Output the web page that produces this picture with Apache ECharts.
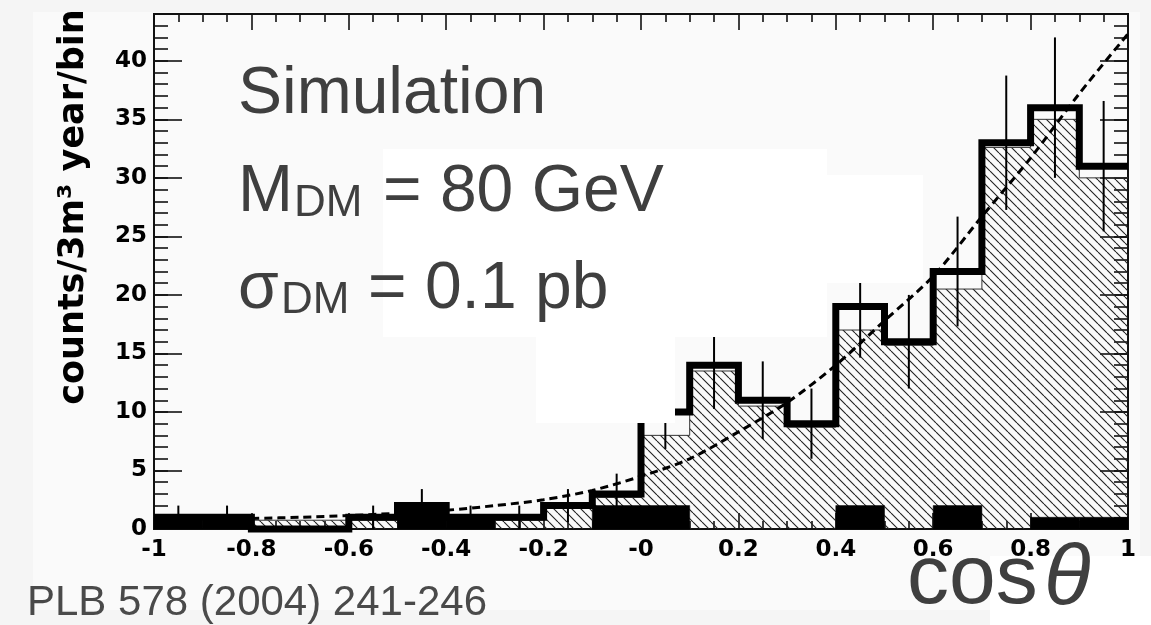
<!DOCTYPE html>
<html>
<head>
<meta charset="utf-8">
<script src="https://cdn.jsdelivr.net/npm/echarts@6/dist/echarts.min.js"></script>
<style>
html,body{margin:0;padding:0;background:#f5f5f5;}
#chart{width:1151px;height:625px;}
</style>
</head>
<body>
<div id="chart"></div>
<script>
// ---- data ----
const binEdges = [-1,-0.9,-0.8,-0.7,-0.6,-0.5,-0.4,-0.3,-0.2,-0.1,0,0.1,0.2,0.3,0.4,0.5,0.6,0.7,0.8,0.9,1];
const dataCounts = [1,1,0,0,1,2,1,1,2,3,10,14,11,9,19,16,22,33,36,31];
const dataErrors = [1,1,0,0,1,1.41,1,1,1.41,1.73,3.16,3.74,3.32,3,4.36,4,4.69,5.74,6,5.57];
const signalMC = [0.75,0.75,0.75,0.75,0.75,0.75,0.75,0.75,1.8,2.7,8,13.5,10.5,8.7,17,15.7,20.5,32.6,35,30];
const backgroundCounts = [1,1,0,0,0,2,1,0,0,2,2,0,0,0,2,0,2,0,1,1];
const fitX = [-0.8,-0.7,-0.6,-0.5,-0.4,-0.3,-0.2,-0.1,0,0.1,0.2,0.3,0.4,0.5,0.6,0.7,0.8,0.9,1.0];
const fitY = [0.9,1.0,1.15,1.35,1.6,2.0,2.5,3.3,4.5,6.0,8.3,10.8,14.0,17.8,21.6,26.7,31.7,37.2,42.3];
const xTickLabels = ['-1','-0.8','-0.6','-0.4','-0.2','-0','0.2','0.4','0.6','0.8','1'];
const yTickLabels = ['0','5','10','15','20','25','30','35','40'];

// ---- hatch pattern ----
const hc = document.createElement('canvas');
hc.width = 9; hc.height = 9;
const hg = hc.getContext('2d');
hg.strokeStyle = '#222'; hg.lineWidth = 1.1;
hg.beginPath();
[-9,0,9].forEach(k => { hg.moveTo(k,0); hg.lineTo(k+9,9); });
hg.stroke();
const hatch = {image: hc, repeat: 'repeat'};

const nb = dataCounts.length;
const binIdx = Array.from({length: nb}, (_, i) => i);

function rectItem(fill, stroke, lw) {
  return function (params, api) {
    const lo = api.value(0), hi = api.value(1), top = api.value(2);
    if (!top) return null;
    const p0 = api.coord([lo, top]);
    const p1 = api.coord([hi, 0]);
    return {type: 'rect', shape: {x: p0[0], y: p0[1], width: p1[0]-p0[0], height: p1[1]-p0[1]},
      style: {fill: fill, stroke: stroke, lineWidth: lw}};
  };
}

const tickStyle = {color: '#111', width: 1.6};
const font = '"Liberation Sans", Arial, sans-serif';
const boldFont = '"DejaVu Sans", sans-serif';
const noLine = {show: false, onZero: false};

const option = {
  backgroundColor: 'transparent',
  animation: false,
  grid: {left: 154, right: 23, top: 14, bottom: 96, show: true, borderColor: '#111', borderWidth: 2, backgroundColor: 'transparent'},
  xAxis: [
    {type: 'value', min: -1, max: 1, interval: 0.2, position: 'bottom',
     axisLine: noLine, splitLine: {show: false},
     axisTick: {inside: true, length: 16, lineStyle: tickStyle},
     minorTick: {show: true, splitNumber: 4, length: 8, lineStyle: tickStyle},
     axisLabel: {margin: 10, fontFamily: boldFont, fontWeight: 'bold', fontSize: 23, color: '#000',
       formatter: v => xTickLabels[Math.round((v + 1) / 0.2)]}},
    {type: 'value', min: -1, max: 1, interval: 0.2, position: 'top',
     axisLine: noLine, splitLine: {show: false},
     axisTick: {inside: true, length: 16, lineStyle: tickStyle},
     minorTick: {show: true, splitNumber: 4, length: 8, lineStyle: tickStyle},
     axisLabel: {show: false}}
  ],
  yAxis: [
    {type: 'value', min: 0, max: 44, interval: 5, position: 'left',
     axisLine: noLine, splitLine: {show: false},
     axisTick: {inside: true, length: 28, lineStyle: tickStyle},
     axisLabel: {margin: 7, fontFamily: boldFont, fontWeight: 'bold', fontSize: 23, color: '#000',
       formatter: v => (v % 5 === 0 && v <= 40) ? yTickLabels[v / 5] : ''}},
    {type: 'value', min: 0, max: 44, interval: 1, position: 'left',
     axisLine: noLine, splitLine: {show: false},
     axisTick: {inside: true, length: 14, lineStyle: tickStyle}, axisLabel: {show: false}},
    {type: 'value', min: 0, max: 44, interval: 5, position: 'right',
     axisLine: noLine, splitLine: {show: false},
     axisTick: {inside: true, length: 28, lineStyle: tickStyle}, axisLabel: {show: false}},
    {type: 'value', min: 0, max: 44, interval: 1, position: 'right',
     axisLine: noLine, splitLine: {show: false},
     axisTick: {inside: true, length: 14, lineStyle: tickStyle}, axisLabel: {show: false}}
  ],
  series: [
    {type: 'custom', name: 'signal MC', z: 2, clip: true,
     data: binIdx.map(i => [binEdges[i], binEdges[i+1], signalMC[i]]),
     encode: {x: [0, 1], y: 2},
     renderItem: rectItem(hatch, null, 0)},
    {type: 'line', name: 'signal MC outline', z: 2, step: 'end', symbol: 'none',
     data: binEdges.map((e, i) => [e, signalMC[Math.min(i, nb - 1)]]),
     lineStyle: {color: '#333', width: 1}},
    {type: 'custom', name: 'background', z: 3,
     data: binIdx.map(i => [binEdges[i], binEdges[i+1], backgroundCounts[i]]),
     encode: {x: [0, 1], y: 2},
     renderItem: rectItem('#000', '#000', 0.5)},
    {type: 'line', name: 'simulated data', z: 4, step: 'end', symbol: 'none', clip: false,
     data: binEdges.map((e, i) => [e, dataCounts[Math.min(i, nb - 1)]]),
     lineStyle: {color: '#000', width: 7, join: 'miter'}},
    {type: 'custom', name: 'errors', z: 5,
     data: binIdx.map(i => [(binEdges[i] + binEdges[i+1]) / 2, dataCounts[i], dataErrors[i]]),
     encode: {x: 0, y: 1},
     renderItem: function (params, api) {
       const xc = api.value(0), v = api.value(1), e = api.value(2);
       if (!e) return null;
       const a = api.coord([xc, v - e]);
       const b = api.coord([xc, v + e]);
       return {type: 'line', shape: {x1: a[0], y1: a[1], x2: b[0], y2: b[1]}, style: {stroke: '#000', lineWidth: 2}};
     }},
    {type: 'line', name: 'fit', z: 6, smooth: 0.3, symbol: 'none',
     data: fitX.map((x, i) => [x, fitY[i]]),
     lineStyle: {color: '#000', width: 3, type: [8, 5]}}
  ],
  graphic: [
    {type: 'rect', z: -1, silent: true, shape: {x: 33, y: 12, width: 1107, height: 598}, style: {fill: '#fafafa'}},
    {type: 'rect', z: 100, silent: true, shape: {x: 383, y: 149, width: 444, height: 188}, style: {fill: '#ffffff'}},
    {type: 'rect', z: 100, silent: true, shape: {x: 536, y: 337, width: 139, height: 86}, style: {fill: '#ffffff'}},
    {type: 'rect', z: 100, silent: true, shape: {x: 827, y: 175, width: 96, height: 108}, style: {fill: '#ffffff'}},
    {type: 'rect', z: 100, silent: true, shape: {x: 990, y: 556, width: 161, height: 69}, style: {fill: '#ffffff'}},
    {type: 'text', z: 101, x: 238, y: 95, style: {text: 'Simulation', font: '66px ' + font, fill: '#3f3f3f', align: 'left', verticalAlign: 'middle'}},
    {type: 'text', z: 101, x: 238, y: 193, style: {text: 'M', font: '66px ' + font, fill: '#3f3f3f', align: 'left', verticalAlign: 'middle'}},
    {type: 'text', z: 101, x: 294, y: 204, style: {text: 'DM', font: '44px ' + font, fill: '#3f3f3f', align: 'left', verticalAlign: 'middle'}},
    {type: 'text', z: 101, x: 383, y: 193, style: {text: '= 80 GeV', font: '66px ' + font, fill: '#3f3f3f', align: 'left', verticalAlign: 'middle'}},
    {type: 'text', z: 101, x: 238, y: 290, style: {text: 'σ', font: '66px ' + font, fill: '#3f3f3f', align: 'left', verticalAlign: 'middle'}},
    {type: 'text', z: 101, x: 281, y: 301, style: {text: 'DM', font: '44px ' + font, fill: '#3f3f3f', align: 'left', verticalAlign: 'middle'}},
    {type: 'text', z: 101, x: 368, y: 290, style: {text: '= 0.1 pb', font: '66px ' + font, fill: '#3f3f3f', align: 'left', verticalAlign: 'middle'}},
    {type: 'text', z: 101, x: 27, y: 603, style: {text: 'PLB 578 (2004) 241-246', font: '42px ' + font, fill: '#4a4a4a', align: 'left', verticalAlign: 'middle'}},
    {type: 'text', z: 101, x: 907, y: 580, style: {text: 'cos', font: '84px ' + font, fill: '#3f3f3f', align: 'left', verticalAlign: 'middle'}},
    {type: 'text', z: 101, x: 1044, y: 580, style: {text: 'θ', font: 'italic 86px ' + font, fill: '#3f3f3f', align: 'left', verticalAlign: 'middle'}},
    {type: 'text', z: 101, x: 74, y: 207, rotation: Math.PI / 2, style: {text: 'counts/3m³ year/bin', font: 'bold 35px ' + boldFont, fill: '#000', align: 'center', verticalAlign: 'middle'}}
  ]
};

const chart = echarts.init(document.getElementById('chart'), null, {renderer: 'canvas'});
chart.setOption(option);
</script>
</body>
</html>
